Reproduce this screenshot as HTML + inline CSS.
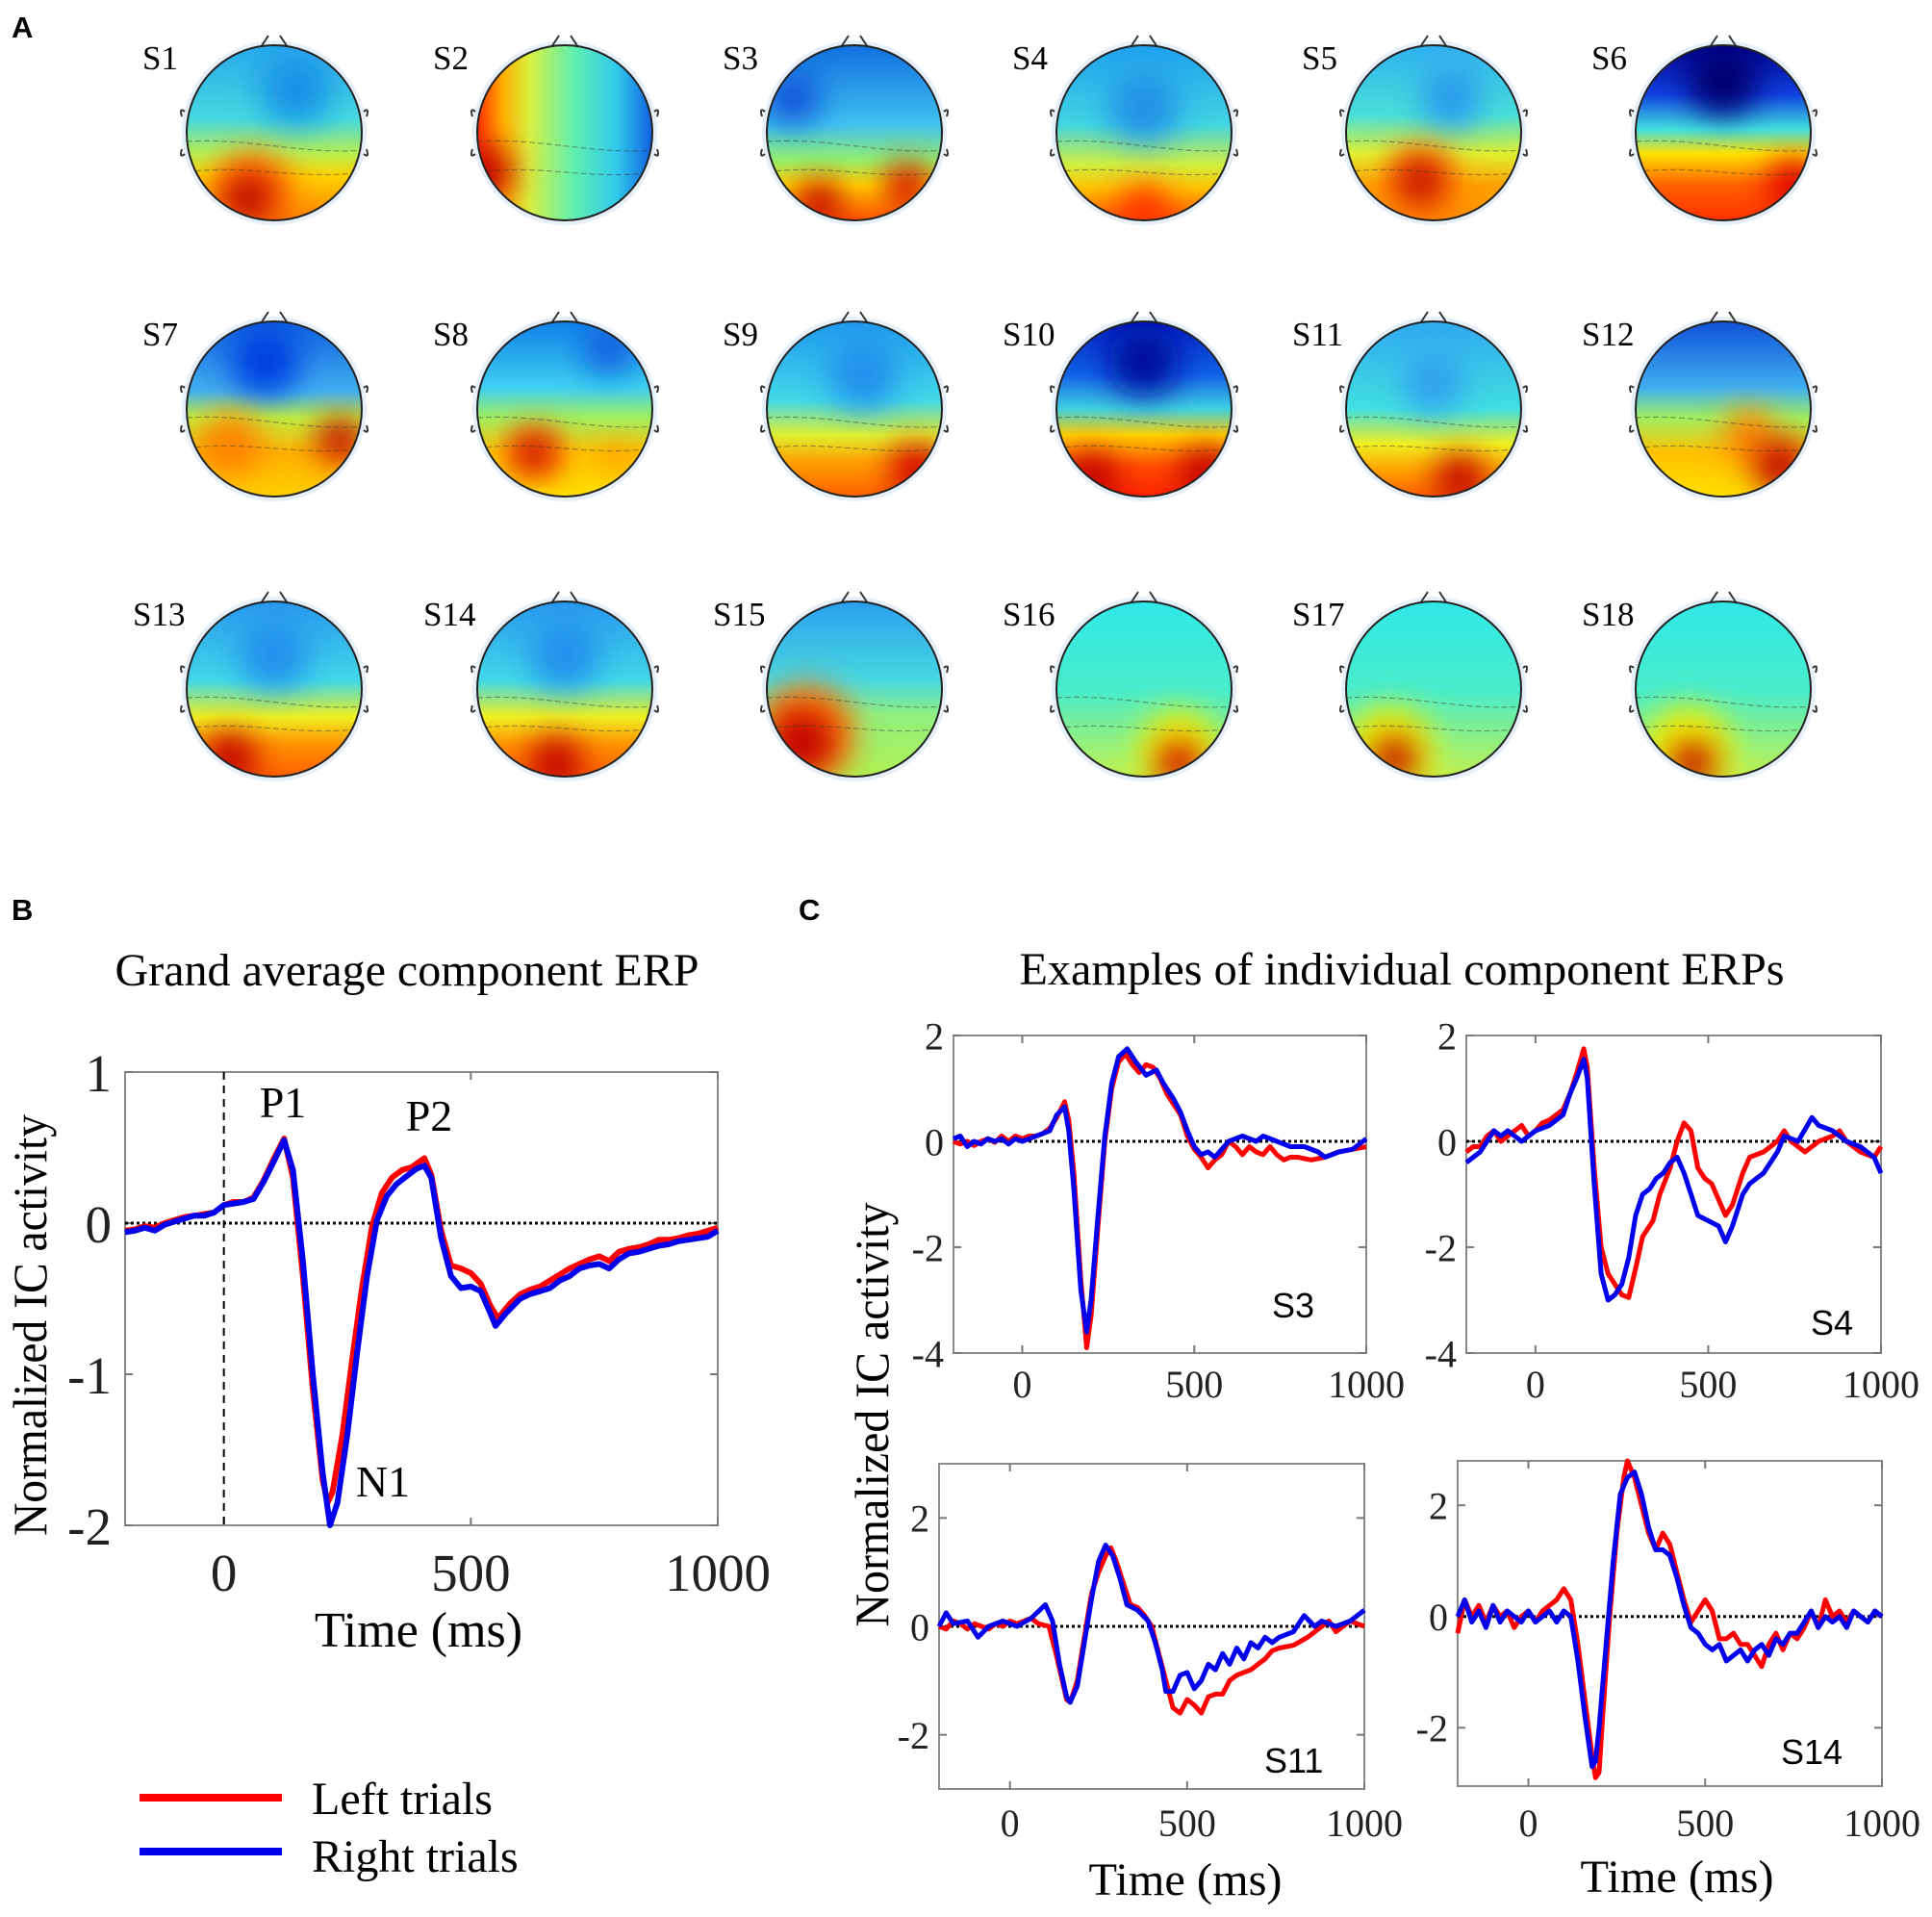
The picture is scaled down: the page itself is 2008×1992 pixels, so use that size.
<!DOCTYPE html>
<html><head><meta charset="utf-8"><title>ERP figure</title>
<style>
html,body{margin:0;padding:0;background:#fff;}
svg{display:block;}
.serif{font-family:"Liberation Serif","DejaVu Serif",serif;}
.sans{font-family:"Liberation Sans","DejaVu Sans",sans-serif;}
</style></head>
<body>
<svg id="fig" xmlns="http://www.w3.org/2000/svg" width="2008" height="1992" viewBox="0 0 2008 1992">
<defs>
<filter id="blur" x="-60%" y="-60%" width="220%" height="220%"><feGaussianBlur stdDeviation="16"/></filter>
</defs>
<rect x="0" y="0" width="2008" height="1992" fill="#fff"/>
<text class="sans" x="12" y="39" font-size="31" font-weight="bold">A</text>
<text class="sans" x="12" y="956" font-size="31" font-weight="bold">B</text>
<text class="sans" x="830" y="956" font-size="31" font-weight="bold">C</text>
<text class="serif" x="423" y="1024" font-size="48" text-anchor="middle" textLength="607" lengthAdjust="spacingAndGlyphs">Grand average component ERP</text>
<text class="serif" x="1457" y="1023" font-size="48" text-anchor="middle" textLength="795" lengthAdjust="spacingAndGlyphs">Examples of individual component ERPs</text>
<text class="serif" transform="translate(48,1377) rotate(-90)" font-size="50" text-anchor="middle" textLength="438" lengthAdjust="spacingAndGlyphs">Normalized IC activity</text>
<text class="serif" transform="translate(923,1470) rotate(-90)" font-size="50" text-anchor="middle" textLength="441" lengthAdjust="spacingAndGlyphs">Normalized IC activity</text>
<text class="serif" x="435" y="1711" font-size="52" text-anchor="middle">Time (ms)</text>
<text class="serif" x="1232" y="1969" font-size="48" text-anchor="middle" textLength="201" lengthAdjust="spacingAndGlyphs">Time (ms)</text>
<text class="serif" x="1743" y="1966" font-size="48" text-anchor="middle" textLength="201" lengthAdjust="spacingAndGlyphs">Time (ms)</text>
<g>
<line x1="145" y1="1868" x2="293" y2="1868" stroke="#ff0000" stroke-width="8"/>
<text class="serif" x="324" y="1885" font-size="48">Left trials</text>
<line x1="145" y1="1924" x2="293" y2="1924" stroke="#0000ee" stroke-width="8"/>
<text class="serif" x="324" y="1945" font-size="48">Right trials</text>
</g>
</svg>
<script>
// ---------- Panel B data ----------
const bLeftT = [-200,-180,-160,-140,-120,-100,-80,-60,-40,-20,0,20,40,60,80,100,122,140,160,180,200,210,220,240,260,280,300,320,340,360,380,406,420,440,460,480,500,520,540,555,580,600,620,640,660,680,700,720,740,760,780,800,820,840,860,880,900,920,940,960,980,1000];
const bLeftV = [-0.05,-0.04,-0.02,-0.03,0.0,0.02,0.04,0.05,0.06,0.07,0.12,0.14,0.14,0.17,0.28,0.42,0.56,0.3,-0.35,-1.1,-1.7,-1.85,-1.78,-1.4,-0.9,-0.42,-0.02,0.2,0.3,0.35,0.37,0.43,0.32,-0.05,-0.28,-0.3,-0.33,-0.4,-0.55,-0.63,-0.53,-0.47,-0.44,-0.42,-0.38,-0.34,-0.3,-0.27,-0.24,-0.22,-0.25,-0.19,-0.17,-0.16,-0.14,-0.11,-0.11,-0.1,-0.08,-0.07,-0.05,-0.03];
const bRightT = [-200,-180,-160,-140,-120,-100,-80,-60,-40,-20,0,20,40,60,80,100,122,140,160,180,200,215,230,250,270,290,310,330,350,370,390,406,420,440,460,480,500,520,540,550,570,600,620,640,660,680,700,720,740,760,780,800,820,840,860,880,900,920,940,960,980,1000];
const bRightV = [-0.06,-0.05,-0.03,-0.05,-0.01,0.01,0.03,0.05,0.05,0.07,0.12,0.13,0.14,0.16,0.27,0.4,0.55,0.35,-0.25,-1.0,-1.65,-2.0,-1.85,-1.4,-0.85,-0.35,0.02,0.18,0.26,0.31,0.36,0.38,0.3,-0.1,-0.35,-0.43,-0.42,-0.45,-0.6,-0.68,-0.6,-0.5,-0.47,-0.45,-0.43,-0.38,-0.35,-0.3,-0.28,-0.27,-0.3,-0.24,-0.2,-0.19,-0.17,-0.15,-0.14,-0.12,-0.11,-0.1,-0.09,-0.05];
const bXTicks = [0,500,1000];
const bXTickLabels = ['0','500','1000'];
const bYTicks = [1,0,-1,-2];
const bYTickLabels = ['1','0','-1','-2'];

// ---------- Panel C data ----------
const s3LeftT = [-200,-180,-160,-140,-120,-100,-80,-60,-40,-20,0,20,40,60,80,100,123,135,150,170,187,200,220,240,260,280,300,320,340,360,380,400,420,440,460,480,500,520,540,560,580,600,620,640,660,680,700,720,740,760,780,800,840,880,920,960,1000];
const s3LeftV = [0.0,-0.05,0.0,-0.08,0.0,0.05,-0.02,0.1,0.0,0.1,0.05,0.1,0.1,0.15,0.25,0.45,0.75,0.4,-0.6,-2.6,-3.9,-3.3,-1.6,0.0,1.0,1.5,1.65,1.45,1.3,1.45,1.4,1.2,0.9,0.7,0.5,0.1,-0.15,-0.3,-0.5,-0.35,-0.25,0.0,-0.1,-0.25,-0.1,-0.2,-0.25,-0.1,-0.25,-0.35,-0.3,-0.3,-0.35,-0.3,-0.2,-0.15,-0.1];
const s3RightT = [-200,-180,-160,-140,-120,-100,-80,-60,-40,-20,0,20,40,60,80,100,123,135,150,170,187,200,220,240,260,280,305,330,360,390,410,440,460,480,500,520,540,560,580,600,640,680,700,740,780,820,860,880,920,960,1000];
const s3RightV = [0.05,0.1,-0.1,0.0,-0.05,0.05,0.0,0.05,-0.05,0.05,0.0,0.05,0.1,0.15,0.2,0.5,0.65,0.2,-0.9,-2.8,-3.6,-3.0,-1.4,0.1,1.1,1.6,1.75,1.5,1.25,1.35,1.1,0.8,0.55,0.2,-0.1,-0.25,-0.2,-0.3,-0.15,0.0,0.1,0.0,0.1,0.0,-0.1,-0.1,-0.2,-0.3,-0.2,-0.15,0.05];
const s4LeftT = [-200,-180,-160,-140,-120,-100,-80,-60,-40,-20,0,20,40,60,80,100,120,140,150,170,190,210,230,250,270,290,310,340,360,390,410,430,450,470,490,510,530,550,570,600,620,660,700,720,740,780,820,860,880,900,940,980,1000];
const s4LeftV = [-0.2,-0.1,-0.1,0.1,0.2,0.0,0.1,0.2,0.3,0.1,0.2,0.35,0.4,0.5,0.6,0.9,1.3,1.75,1.4,-0.5,-2.0,-2.5,-2.7,-2.9,-2.95,-2.4,-1.8,-1.5,-1.0,-0.5,0.0,0.35,0.2,-0.5,-0.7,-0.8,-1.1,-1.4,-1.2,-0.6,-0.3,-0.2,0.0,0.2,0.0,-0.2,0.0,0.1,0.2,0.0,-0.2,-0.3,-0.1];
const s4RightT = [-200,-180,-160,-140,-120,-100,-80,-60,-40,-20,0,20,40,60,80,100,120,140,150,170,190,210,230,250,270,290,310,330,350,370,390,410,430,450,470,500,530,550,570,600,620,660,700,720,760,800,820,860,900,940,980,1000];
const s4RightV = [-0.4,-0.3,-0.2,0.0,0.2,0.1,0.2,0.1,0.0,0.1,0.2,0.25,0.3,0.4,0.5,0.9,1.2,1.55,1.2,-0.8,-2.5,-3.0,-2.9,-2.7,-2.2,-1.4,-1.0,-0.9,-0.7,-0.6,-0.4,-0.3,-0.6,-1.0,-1.4,-1.5,-1.6,-1.9,-1.6,-1.0,-0.8,-0.6,-0.2,0.1,0.0,0.45,0.3,0.2,0.0,-0.1,-0.3,-0.6];
const s11LeftT = [-200,-180,-160,-140,-120,-100,-80,-60,-40,-20,0,20,40,60,80,110,130,160,170,190,210,230,250,270,285,300,320,340,360,380,400,420,440,460,480,500,520,540,560,580,600,620,640,680,700,720,740,760,800,840,880,900,920,960,1000];
const s11LeftV = [0.0,-0.05,0.1,0.05,-0.05,0.05,0.0,-0.05,0.05,0.0,0.1,0.05,0.1,0.15,0.05,0.0,-0.5,-1.35,-1.4,-1.0,-0.2,0.6,1.0,1.3,1.45,1.2,0.8,0.4,0.35,0.2,0.0,-0.5,-1.0,-1.5,-1.6,-1.35,-1.45,-1.6,-1.3,-1.25,-1.25,-1.0,-0.9,-0.8,-0.7,-0.6,-0.45,-0.4,-0.35,-0.2,0.0,0.1,-0.1,0.1,0.0];
const s11RightT = [-200,-180,-160,-120,-90,-60,-20,20,60,100,120,140,160,170,190,210,230,250,270,290,310,330,360,390,410,430,440,460,480,500,520,540,560,580,600,620,640,660,680,700,720,740,760,800,830,860,880,920,960,1000];
const s11RightV = [0.0,0.25,0.05,0.1,-0.2,0.0,0.1,0.0,0.15,0.4,0.1,-0.7,-1.3,-1.4,-1.1,-0.3,0.5,1.2,1.5,1.3,0.9,0.4,0.3,0.1,-0.3,-0.8,-1.2,-1.2,-0.9,-0.85,-1.15,-1.0,-0.7,-0.8,-0.5,-0.7,-0.4,-0.6,-0.3,-0.4,-0.2,-0.3,-0.2,-0.1,0.2,0.0,0.1,0.0,0.1,0.3];
const s14LeftT = [-200,-180,-160,-140,-120,-100,-80,-60,-40,-20,0,20,40,60,80,100,120,140,160,180,190,200,210,230,250,270,280,300,320,340,360,380,400,420,440,460,480,500,520,540,560,580,600,620,640,660,680,700,720,740,760,780,800,820,840,860,880,900,920,940,960,980,1000];
const s14LeftV = [-0.3,0.3,0.0,0.2,-0.1,0.2,0.0,0.1,-0.2,0.0,0.1,-0.1,0.1,0.2,0.3,0.5,0.3,-0.5,-1.5,-2.5,-2.9,-2.8,-1.8,0.0,1.5,2.5,2.8,2.5,2.0,1.5,1.2,1.5,1.3,0.8,0.3,-0.1,0.1,0.3,0.1,-0.4,-0.4,-0.3,-0.5,-0.5,-0.7,-0.9,-0.5,-0.3,-0.6,-0.3,-0.4,-0.2,0.1,-0.2,0.3,0.0,0.1,-0.1,0.1,0.0,-0.1,0.1,0.0];
const s14RightT = [-200,-180,-160,-140,-120,-100,-80,-60,-40,-20,0,20,40,60,80,100,120,140,160,180,190,200,220,240,260,280,300,320,340,360,380,400,420,440,460,480,500,520,540,560,580,600,620,640,660,680,700,720,740,760,780,800,820,840,860,880,900,920,940,960,980,1000];
const s14RightV = [0.0,0.3,-0.1,0.1,-0.2,0.2,-0.1,0.1,0.0,-0.1,0.1,-0.1,0.0,0.1,-0.1,0.1,0.0,-0.8,-1.8,-2.7,-2.6,-2.0,-0.5,1.0,2.2,2.5,2.6,2.2,1.6,1.2,1.2,1.1,0.7,0.2,-0.2,-0.3,-0.5,-0.6,-0.5,-0.8,-0.7,-0.6,-0.8,-0.6,-0.5,-0.7,-0.4,-0.5,-0.3,-0.3,-0.1,0.1,-0.2,0.0,-0.1,0.0,-0.2,0.1,0.0,-0.1,0.1,0.0];
const cXTicks = [0,500,1000];
const cXTickLabels = ['0','500','1000'];
const s34YTicks = [2,0,-2,-4];
const s34YTickLabels = ['2','0','-2','-4'];
const s1114YTicks = [2,0,-2];
const s1114YTickLabels = ['2','0','-2'];

// ---------- Topomap descriptors ----------
const headLabels = ['S1','S2','S3','S4','S5','S6','S7','S8','S9','S10','S11','S12','S13','S14','S15','S16','S17','S18'];

const NS = 'http://www.w3.org/2000/svg';
const svg = document.getElementById('fig');
const defs = svg.querySelector('defs');
function mk(tag, attrs, parent) {
  const e = document.createElementNS(NS, tag);
  for (const k in attrs) e.setAttribute(k, attrs[k]);
  (parent || svg).appendChild(e);
  return e;
}

const headGrads = [
 ['v',[[0,'#2aa8ec'],[0.42,'#45d8e0'],[0.62,'#b8f050'],[0.75,'#ffd000'],[1,'#ff8000']]],
 ['h',[[0,'#ff3000'],[0.15,'#ffb000'],[0.3,'#d8f040'],[0.55,'#60f0b0'],[0.8,'#30c8ec'],[1,'#1060e0']]],
 ['v',[[0,'#1070e0'],[0.45,'#40c0f0'],[0.65,'#90f070'],[0.8,'#ffd000'],[1,'#ff5000']]],
 ['v',[[0,'#20a0ee'],[0.45,'#40d4e4'],[0.68,'#d0f040'],[0.82,'#ffc000'],[1,'#ff5000']]],
 ['v',[[0,'#30b0f0'],[0.4,'#48e0d8'],[0.62,'#e0f030'],[0.8,'#ffa000'],[1,'#ff9000']]],
 ['v',[[0,'#000090'],[0.28,'#1040e0'],[0.48,'#40e0e0'],[0.62,'#ffe000'],[0.8,'#ff6000'],[1,'#ff3000']]],
 ['v',[[0,'#1060e0'],[0.4,'#40b0f0'],[0.55,'#c0f040'],[0.75,'#ffb000'],[1,'#ffd000']]],
 ['v',[[0,'#1080e8'],[0.38,'#40d0f0'],[0.55,'#a0f060'],[0.75,'#ffc000'],[1,'#ffe000']]],
 ['v',[[0,'#2098ee'],[0.45,'#40d8e8'],[0.65,'#e0f030'],[0.8,'#ffa000'],[1,'#ff6000']]],
 ['v',[[0,'#0020c0'],[0.3,'#1060e8'],[0.5,'#40d0e0'],[0.65,'#ffd000'],[0.82,'#ff5000'],[1,'#ff2000']]],
 ['v',[[0,'#30a8f0'],[0.5,'#40e0e0'],[0.7,'#f0f020'],[0.85,'#ffa000'],[1,'#ff6000']]],
 ['v',[[0,'#1050d8'],[0.38,'#40b0f0'],[0.55,'#a0f060'],[0.75,'#ffc000'],[1,'#ffe000']]],
 ['v',[[0,'#2a98ee'],[0.45,'#40d8e8'],[0.66,'#f0f020'],[0.82,'#ff9000'],[1,'#ff6000']]],
 ['v',[[0,'#2a98ee'],[0.45,'#40d8e8'],[0.66,'#f0f020'],[0.82,'#ff9000'],[1,'#ff6000']]],
 ['v',[[0,'#2aa0ee'],[0.45,'#48d8e0'],[0.65,'#90f080'],[1,'#b0f050']]],
 ['v',[[0,'#30e8e8'],[0.5,'#48eccc'],[0.8,'#90f080'],[1,'#c0f050']]],
 ['v',[[0,'#30e8e8'],[0.5,'#48eccc'],[0.8,'#90f080'],[1,'#c0f050']]],
 ['v',[[0,'#30e8e8'],[0.5,'#48eccc'],[0.8,'#90f080'],[1,'#c0f050']]]
];
const headBlobs = [
 [[0.25,-0.5,0.4,'#1890e8'],[-0.25,0.68,0.45,'#ff6000'],[-0.3,0.75,0.25,'#b00000']],
 [[-0.9,0.45,0.3,'#c00000']],
 [[-0.7,-0.4,0.3,'#1050d8'],[-0.4,0.8,0.25,'#c00000'],[0.6,0.6,0.25,'#d00000']],
 [[0,-0.3,0.4,'#2090e8'],[0,0.9,0.3,'#ff3000']],
 [[0.2,-0.4,0.35,'#2a9aee'],[-0.15,0.55,0.4,'#ff6000'],[-0.15,0.55,0.22,'#b00000']],
 [[0,-0.6,0.4,'#000070'],[0.8,0.6,0.3,'#e00000']],
 [[-0.1,-0.55,0.4,'#0040e0'],[-0.5,0.4,0.35,'#ff8000'],[0.75,0.35,0.25,'#c00000']],
 [[0.5,-0.7,0.3,'#1060e0'],[-0.35,0.5,0.3,'#ff5000'],[-0.35,0.5,0.18,'#b00000'],[0.6,0.55,0.15,'#ff9000']],
 [[0.1,-0.4,0.4,'#2090ee'],[0.7,0.7,0.3,'#d00000']],
 [[0,-0.55,0.4,'#0010a0'],[-0.6,0.8,0.3,'#c00000'],[0.7,0.75,0.3,'#c00000']],
 [[0,-0.3,0.35,'#30a0f0'],[0.3,0.8,0.28,'#c00000']],
 [[0.3,0.3,0.3,'#ff8000'],[0.65,0.65,0.3,'#c00000']],
 [[0,-0.4,0.4,'#2090ee'],[-0.5,0.8,0.3,'#c00000']],
 [[0,-0.4,0.4,'#2090ee'],[-0.1,0.85,0.3,'#c00000']],
 [[-0.55,0.5,0.55,'#ff7000'],[-0.6,0.6,0.35,'#c00000']],
 [[0.4,0.7,0.45,'#f0f000'],[0.4,0.85,0.25,'#d00000']],
 [[-0.5,0.7,0.5,'#f0f000'],[-0.45,0.8,0.25,'#c00000']],
 [[-0.4,0.7,0.5,'#f0f000'],[-0.35,0.85,0.25,'#c00000']]
];
const headCX = [285,587,888,1189,1490,1791];
const headCY = [138,425,716];
const R = 91;

headLabels.forEach((lab, i) => {
  const cx = headCX[i % 6], cy = headCY[Math.floor(i / 6)];
  const g = mk('g', {});
  
  
  const [dir, stops] = headGrads[i];
  const gr = mk('linearGradient', dir === 'v' ? {id: 'hg' + i, x1: 0, y1: 0, x2: 0, y2: 1} : {id: 'hg' + i, x1: 0, y1: 0, x2: 1, y2: 0}, defs);
  stops.forEach(s => mk('stop', {offset: s[0], 'stop-color': s[1]}, gr));
  const cp = mk('clipPath', {id: 'hc' + i}, defs);
  mk('ellipse', {cx: cx, cy: cy, rx: R, ry: R}, cp);
  mk('circle', {cx: cx, cy: cy, r: R + 5, fill: '#e6f0fa'}, g);
  // nose & ears
  const nose = mk('path', {d: `M${cx-14},${cy-R+2} L${cx-6},${cy-R-10} M${cx+6},${cy-R-10} L${cx+14},${cy-R+2}`, stroke: '#333', 'stroke-width': 2, fill: 'none'}, g);
  
  
  const ears = mk('path', {d: `M${cx-R-2},${cy-22} q-6,-5 -3,5 M${cx-R-2},${cy+22} q-6,5 -3,-5 M${cx+R+2},${cy-22} q6,-5 3,5 M${cx+R+2},${cy+22} q6,5 3,-5`, stroke: '#333', 'stroke-width': 2, fill: 'none'}, g);
  
  
  const inner = mk('g', {'clip-path': 'url(#hc' + i + ')'}, g);
  mk('rect', {x: cx - R, y: cy - R, width: 2 * R, height: 2 * R, fill: 'url(#hg' + i + ')'}, inner);
  headBlobs[i].forEach(b => {
    mk('circle', {cx: cx + b[0] * R, cy: cy + b[1] * R, r: b[2] * R, fill: b[3], filter: 'url(#blur)'}, inner);
  });
  // a few faint contour lines
  mk('path', {d: `M${cx-R},${cy+R*0.1} C${cx-R*0.3},${cy+R*0.05} ${cx+R*0.3},${cy+R*0.25} ${cx+R},${cy+R*0.2}`, stroke: '#333', 'stroke-opacity': 0.45, 'stroke-width': 1.2, 'stroke-dasharray': '6 3', fill: 'none'}, inner);
  mk('path', {d: `M${cx-R},${cy+R*0.45} C${cx-R*0.3},${cy+R*0.35} ${cx+R*0.3},${cy+R*0.55} ${cx+R},${cy+R*0.45}`, stroke: '#333', 'stroke-opacity': 0.45, 'stroke-width': 1.2, 'stroke-dasharray': '6 3', fill: 'none'}, inner);
  const outline = mk('circle', {cx: cx, cy: cy, r: R, fill: 'none', stroke: '#222', 'stroke-width': 2}, g);
  
  
  const t = mk('text', {x: cx - (lab.length > 2 ? 147 : 137), y: cy - 66, 'font-size': 35, class: 'serif'}, g);
  t.textContent = lab;
  
  
});

// ---------- Chart drawer ----------
function chart(name, box, xr, yr, series, xt, xtl, yt, ytl, o) {
  const g = mk('g', {});
  
  
  const X = t => box.l + (t - xr[0]) / (xr[1] - xr[0]) * (box.r - box.l);
  const Y = v => box.b - (v - yr[0]) / (yr[1] - yr[0]) * (box.b - box.t);
  const frame = mk('rect', {x: box.l, y: box.t, width: box.r - box.l, height: box.b - box.t, fill: 'none', stroke: '#8a8a8a', 'stroke-width': 2}, g);
  
  
  xt.forEach((t, k) => {
    const x = X(t);
    mk('line', {x1: x, y1: box.b, x2: x, y2: box.b - 8, stroke: '#777', 'stroke-width': 2}, g);
    mk('line', {x1: x, y1: box.t, x2: x, y2: box.t + 8, stroke: '#777', 'stroke-width': 2}, g);
    const lbl = mk('text', {x: x, y: o.xLabY, 'font-size': o.fs, 'text-anchor': 'middle', class: 'serif', fill: '#222'}, g);
    lbl.textContent = xtl[k];
    
    
  });
  yt.forEach((v, k) => {
    const y = Y(v);
    mk('line', {x1: box.l, y1: y, x2: box.l + 8, y2: y, stroke: '#777', 'stroke-width': 2}, g);
    mk('line', {x1: box.r, y1: y, x2: box.r - 8, y2: y, stroke: '#777', 'stroke-width': 2}, g);
    const lbl = mk('text', {x: box.l - o.yLabGap, y: y + o.fs * 0.36, 'font-size': o.fs, 'text-anchor': 'end', class: 'serif', fill: '#222'}, g);
    lbl.textContent = ytl[k];
    
    
  });
  const zero = mk('line', {x1: box.l, y1: Y(0), x2: box.r, y2: Y(0), stroke: '#000', 'stroke-width': 3, 'stroke-dasharray': '3 3'}, g);
  
  
  if (o.onset) {
    const on = mk('line', {x1: X(0), y1: box.t, x2: X(0), y2: box.b, stroke: '#000', 'stroke-width': 2, 'stroke-dasharray': '8 6'}, g);
    
    
  }
  series.forEach(s => {
    const d = s.t.map((t, k) => (k ? 'L' : 'M') + X(t).toFixed(1) + ',' + Y(s.v[k]).toFixed(1)).join(' ');
    const p = mk('path', {d: d, fill: 'none', stroke: s.c, 'stroke-width': o.lw, 'stroke-linejoin': 'round'}, g);
    
    
  });
  return {X, Y, g};
}

const cb = chart('grand-average-chart', {l: 130, r: 746, t: 1114, b: 1585}, [-200, 1000], [-2, 1],
  [{t: bLeftT, v: bLeftV, c: '#ff0000', n: 'left-trials-line'}, {t: bRightT, v: bRightV, c: '#0000ee', n: 'right-trials-line'}],
  bXTicks, bXTickLabels, bYTicks, bYTickLabels, {fs: 55, xLabY: 1653, yLabGap: 14, lw: 6, onset: true});
[['P1', 294, 1161], ['P2', 446, 1175], ['N1', 398, 1555]].forEach(a => {
  const t = mk('text', {x: a[1], y: a[2], 'font-size': 46, 'text-anchor': 'middle', class: 'serif'}, cb.g);
  t.textContent = a[0];
  
  
});

const cfgs = [
  ['s3-chart', {l: 991, r: 1420, t: 1076, b: 1406}, [-4, 2], s3LeftT, s3LeftV, s3RightT, s3RightV, s34YTicks, s34YTickLabels, 1452, 'S3', 1322, 1369],
  ['s4-chart', {l: 1524, r: 1955, t: 1076, b: 1406}, [-4, 2], s4LeftT, s4LeftV, s4RightT, s4RightV, s34YTicks, s34YTickLabels, 1452, 'S4', 1882, 1387],
  ['s11-chart', {l: 976, r: 1418, t: 1521, b: 1859}, [-3, 3], s11LeftT, s11LeftV, s11RightT, s11RightV, s1114YTicks, s1114YTickLabels, 1908, 'S11', 1314, 1842],
  ['s14-chart', {l: 1515, r: 1956, t: 1518, b: 1856}, [-3.05, 2.8], s14LeftT, s14LeftV, s14RightT, s14RightV, s1114YTicks, s1114YTickLabels, 1908, 'S14', 1851, 1833]
];
cfgs.forEach(c => {
  const ch = chart(c[0], c[1], [-200, 1000], c[2],
    [{t: c[3], v: c[4], c: '#ff0000', n: 'left-trials-line'}, {t: c[5], v: c[6], c: '#0000ee', n: 'right-trials-line'}],
    cXTicks, cXTickLabels, c[7], c[8], {fs: 40, xLabY: c[9], yLabGap: 10, lw: 5, onset: false});
  const t = mk('text', {x: c[11], y: c[12], 'font-size': 36, class: 'sans'}, ch.g);
  t.textContent = c[10];
  
  
});
</script>
</body></html>
